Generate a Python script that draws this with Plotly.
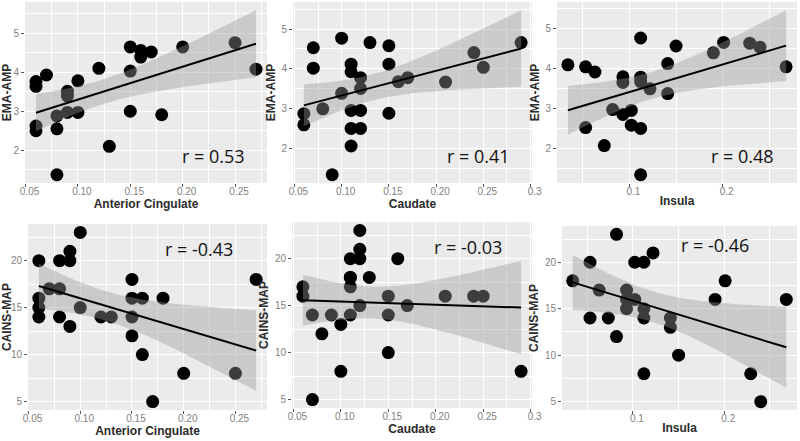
import numpy as np
import plotly.graph_objects as go

# ---------------- data ----------------
# Top row: EMA-AMP
ac_ema_x = [0.06, 0.06, 0.06, 0.06, 0.07, 0.08, 0.08, 0.08, 0.09, 0.09, 0.09, 0.10, 0.10,
            0.12, 0.13, 0.15, 0.15, 0.15, 0.16, 0.16, 0.17, 0.18, 0.20, 0.25, 0.27]
ac_ema_y = [3.76, 3.64, 2.62, 2.50, 3.93, 2.88, 2.55, 1.37, 3.51, 3.39, 2.97, 3.78, 2.97,
            4.10, 2.10, 4.65, 4.03, 3.00, 4.56, 4.39, 4.52, 2.91, 4.65, 4.76, 4.08]

cau_ema_x = [0.06, 0.06, 0.07, 0.07, 0.08, 0.09, 0.10, 0.10, 0.11, 0.11, 0.11, 0.11, 0.11,
             0.12, 0.12, 0.12, 0.12, 0.13, 0.15, 0.15, 0.15, 0.16, 0.17, 0.21, 0.24, 0.25, 0.29]
cau_ema_y = [2.88, 2.60, 4.53, 4.02, 3.00, 1.35, 4.77, 3.39, 4.12, 3.93, 2.96, 2.51, 2.07,
             3.78, 3.51, 2.96, 2.51, 4.66, 4.58, 4.12, 2.89, 3.68, 3.78, 3.67, 4.41, 4.04, 4.66]

ins_ema_x = [0.034, 0.053, 0.053, 0.063, 0.073, 0.082, 0.093, 0.093, 0.093, 0.102, 0.102,
             0.112, 0.112, 0.112, 0.112, 0.112, 0.122, 0.141, 0.141, 0.150, 0.190, 0.201,
             0.229, 0.240, 0.268]
ins_ema_y = [4.10, 4.05, 2.53, 3.92, 2.08, 2.98, 3.80, 3.66, 2.86, 2.96, 2.59,
             4.77, 3.79, 3.68, 2.51, 1.35, 3.50, 4.13, 3.38, 4.57, 4.40, 4.66,
             4.64, 4.54, 4.05]

# Bottom row: CAINS-MAP
ac_cains_x = [0.06, 0.06, 0.06, 0.06, 0.07, 0.08, 0.08, 0.08, 0.09, 0.09, 0.09, 0.10, 0.10,
              0.12, 0.13, 0.15, 0.15, 0.15, 0.15, 0.16, 0.16, 0.17, 0.18, 0.20, 0.25, 0.27]
ac_cains_y = [20, 16, 15, 14, 17, 20, 17, 14, 21, 20, 13, 23, 15,
              14, 14, 18, 16, 14, 12, 16, 10, 5, 16, 8, 8, 18]

cau_cains_x = [0.06, 0.06, 0.07, 0.07, 0.08, 0.09, 0.10, 0.10, 0.11, 0.11, 0.11, 0.11, 0.11,
               0.12, 0.12, 0.12, 0.12, 0.13, 0.15, 0.15, 0.15, 0.16, 0.17, 0.21, 0.24, 0.25, 0.29]
cau_cains_y = [17, 16, 14, 5, 12, 14, 13, 8, 20, 18, 18, 17, 14,
               23, 21, 20, 15, 18, 16, 14, 10, 20, 15, 16, 16, 16, 8]

ins_cains_x = [0.034, 0.053, 0.053, 0.063, 0.073, 0.082, 0.082, 0.093, 0.093, 0.093, 0.102,
               0.102, 0.112, 0.112, 0.112, 0.112, 0.122, 0.141, 0.141, 0.150, 0.190, 0.201,
               0.229, 0.240, 0.268]
ins_cains_y = [18, 20, 14, 17, 14, 23, 12, 17, 16, 15, 20,
               16, 20, 15, 14, 8, 21, 14, 13, 10, 16, 18,
               8, 5, 16]

r_labels = ["r = 0.53", "r = 0.41", "r = 0.48", "r = -0.43", "r = -0.03", "r = -0.46"]
x_titles = ["Anterior Cingulate", "Caudate", "Insula", "Anterior Cingulate", "Caudate", "Insula"]
y_titles = ["EMA-AMP", "EMA-AMP", "EMA-AMP", "CAINS-MAP", "CAINS-MAP", "CAINS-MAP"]

ac_ticks = [0.05, 0.10, 0.15, 0.20, 0.25]
ac_ticktext = ["0.05", "0.10", "0.15", "0.20", "0.25"]
cau_ticks = [0.05, 0.10, 0.15, 0.20, 0.25, 0.30]
cau_ticktext = ["0.05", "0.10", "0.15", "0.20", "0.25", "0.3"]
ins_ticks = [0.1, 0.2]
ins_ticktext = ["0.1", "0.2"]
ema_ticks = [2, 3, 4, 5]
cains_ticks = [5, 10, 15, 20]

panels = [
    (ac_ema_x, ac_ema_y, ac_ticks, ac_ticktext, ema_ticks),
    (cau_ema_x, cau_ema_y, cau_ticks, cau_ticktext, ema_ticks),
    (ins_ema_x, ins_ema_y, ins_ticks, ins_ticktext, ema_ticks),
    (ac_cains_x, ac_cains_y, ac_ticks, ac_ticktext, cains_ticks),
    (cau_cains_x, cau_cains_y, cau_ticks, cau_ticktext, cains_ticks),
    (ins_cains_x, ins_cains_y, ins_ticks, ins_ticktext, cains_ticks),
]

# ---------------- layout geometry (pixels: left, right, top, bottom) ----------------
W, H = 800, 441
boxes = [
    (25, 267, 2, 183), (293, 532, 2, 183), (557, 797, 2, 183),
    (28, 267, 224, 410), (292, 532, 222, 408), (562, 797, 226, 410),
]
r_pos = [(213, 156), (478, 156), (742, 156), (199, 249), (468, 247), (715, 245)]


def t975(df):
    z = 1.959964
    return z + (z**3 + z) / (4 * df) + (5 * z**5 + 16 * z**3 + 3 * z) / (96 * df**2)


def lm_band(x, y, n=80):
    x = np.asarray(x, float)
    y = np.asarray(y, float)
    b, a = np.polyfit(x, y, 1)
    resid = y - (a + b * x)
    df = len(x) - 2
    s = np.sqrt(np.sum(resid**2) / df)
    xs = np.linspace(x.min(), x.max(), n)
    se = s * np.sqrt(1 / len(x) + (xs - x.mean())**2 / np.sum((x - x.mean())**2))
    fit = a + b * xs
    t = t975(df)
    return xs, fit, fit - t * se, fit + t * se


def minor_vals(ticks):
    step = ticks[1] - ticks[0]
    vals = [ticks[0] - step / 2] + [t + step / 2 for t in ticks]
    return vals


fig = go.Figure()
layout = {}
tick_font = dict(family="Liberation Sans, Arial, sans-serif", size=10, color="#7f7f7f")
title_font = dict(family="Liberation Sans, Arial, sans-serif", size=12, color="#2b2b2b", weight="bold")

for i, (px, py, xt, xtt, yt) in enumerate(panels):
    k = "" if i == 0 else str(i + 1)
    xa, ya = "x" + k, "y" + k
    xs, fit, lo, hi = lm_band(px, py)

    # points first, ribbon drawn over them (ggplot order)
    fig.add_trace(go.Scatter(x=px, y=py, mode="markers", xaxis=xa, yaxis=ya,
                             marker=dict(size=13, color="black", line=dict(width=0)),
                             cliponaxis=False, showlegend=False, hoverinfo="x+y"))
    fig.add_trace(go.Scatter(x=np.concatenate([xs, xs[::-1]]), y=np.concatenate([hi, lo[::-1]]),
                             mode="lines", fill="toself", fillcolor="rgba(153,153,153,0.4)",
                             line=dict(width=0), xaxis=xa, yaxis=ya, showlegend=False,
                             hoverinfo="skip"))
    fig.add_trace(go.Scatter(x=xs, y=fit, mode="lines", line=dict(color="black", width=2),
                             xaxis=xa, yaxis=ya, showlegend=False, hoverinfo="skip"))

    xmin, xmax = min(px), max(px)
    ymin, ymax = min(min(py), lo.min()), max(max(py), hi.max())
    xr = [xmin - 0.05 * (xmax - xmin), xmax + 0.05 * (xmax - xmin)]
    yr = [ymin - 0.05 * (ymax - ymin), ymax + 0.05 * (ymax - ymin)]

    l, r, t, b = boxes[i]
    common = dict(showline=False, zeroline=False, ticks="outside", ticklen=3,
                  tickcolor="#555555", tickwidth=1, showgrid=True, gridcolor="white",
                  gridwidth=1.1, tickfont=tick_font, automargin=False)
    layout["xaxis" + k] = dict(
        domain=[l / W, r / W], anchor=ya, range=xr, tickmode="array",
        tickvals=xt, ticktext=xtt, ticklabelstandoff=-4, ticklabelshift=4,
        minor=dict(tickvals=minor_vals(xt), showgrid=True, gridcolor="white", gridwidth=0.5, ticks=""),
        title=dict(text=x_titles[i], font=title_font, standoff=0), **common)
    layout["yaxis" + k] = dict(
        domain=[1 - b / H, 1 - t / H], anchor=xa, range=yr, tickmode="array",
        tickvals=yt, ticktext=[str(v) for v in yt],
        minor=dict(tickvals=minor_vals(yt), showgrid=True, gridcolor="white", gridwidth=0.5, ticks=""),
        title=dict(text=y_titles[i], font=title_font, standoff=3), **common)

annotations = []
for i, (cx, cy) in enumerate(r_pos):
    annotations.append(dict(text=r_labels[i], x=cx / W, y=1 - cy / H, xref="paper", yref="paper",
                            showarrow=False, xanchor="center", yanchor="middle",
                            font=dict(family="Open Sans, sans-serif", size=18, color="#111111")))

fig.update_layout(width=W, height=H, margin=dict(l=0, r=0, t=0, b=0, autoexpand=False),
                  paper_bgcolor="white", plot_bgcolor="#EBEBEB",
                  annotations=annotations, **layout)

fig.write_html("out.html", config={"displayModeBar": False},
               post_script="document.body.style.margin='0';document.body.style.overflow='hidden';")
